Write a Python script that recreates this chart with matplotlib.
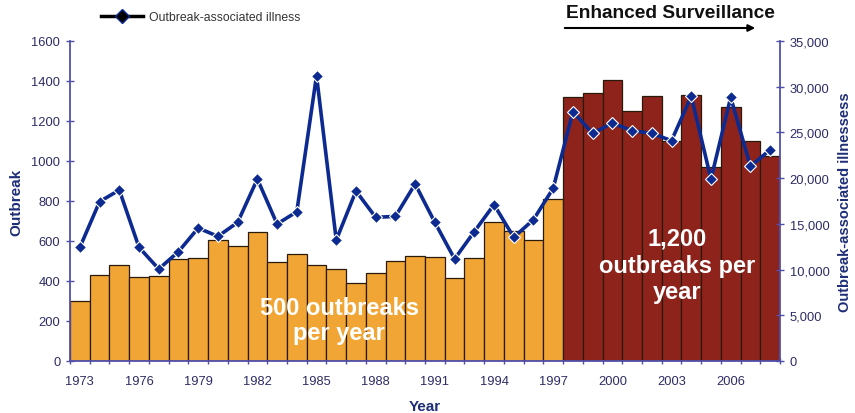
import matplotlib
matplotlib.use("Agg")
import matplotlib.pyplot as plt
from matplotlib.ticker import FuncFormatter, FixedLocator

plt.rcParams['font.family'] = ['Liberation Sans', 'DejaVu Sans']

years = list(range(1973, 2009))
outbreaks = [300, 432, 480, 418, 425, 510, 515, 605, 577, 647, 493, 533, 480,
             460, 390, 438, 498, 527, 520, 413, 513, 693, 652, 605, 810,
             1318, 1340, 1405, 1252, 1323, 1098, 1332, 972, 1268, 1098, 1027]
illnesses = [12430, 17430, 18700, 12430, 10060, 11960, 14550, 13630, 15160, 19900,
             14980, 16330, 31210, 13230, 18590, 15710, 15820, 19360, 15160, 11160,
             14150, 17100, 13530, 15460, 18890, 27270, 24900, 26030, 25190, 24900,
             24100, 28950, 19900, 28840, 21290, 23110]
surveillance_start = 1998
year_labels = [1973, 1976, 1979, 1982, 1985, 1988, 1991, 1994, 1997, 2000, 2003, 2006]

ORANGE = "#F0A535"
DARKRED = "#8E231C"
NAVY = "#0D2A91"
AXIS = "#5050A8"
LABEL = "#1E2E78"
TICKTXT = "#2C2C66"

fig = plt.figure(figsize=(8.55, 4.14), dpi=100)
ax = fig.add_axes([70/855, 52/414, 710/855, 320/414])

x = list(range(len(years)))
colors = [DARKRED if y >= surveillance_start else ORANGE for y in years]
ax.bar(x, outbreaks, width=1.0, color=colors, edgecolor="#2a1a0a", linewidth=0.9, zorder=2)

ax.set_xlim(-0.5, len(years) - 0.5)
ax.set_ylim(0, 1600)
ax.set_yticks(range(0, 1601, 200))
ax.set_xticks([years.index(y) for y in year_labels])
ax.set_xticklabels([str(y) for y in year_labels])
ax.xaxis.set_minor_locator(FixedLocator([i - 0.5 for i in range(len(years) + 1)]))
ax.tick_params(axis='x', which='major', length=0, pad=10, labelsize=9.3, labelcolor=TICKTXT)
ax.tick_params(axis='x', which='minor', length=4, direction='inout', color=AXIS, width=1)
ax.tick_params(axis='y', length=6, direction='inout', color=AXIS, width=1,
               labelsize=9.3, labelcolor=TICKTXT, pad=4)

for side in ['top', 'right']:
    ax.spines[side].set_visible(False)
for side in ['left', 'bottom']:
    ax.spines[side].set_color(AXIS)
    ax.spines[side].set_linewidth(1.3)

ax.set_ylabel("Outbreak", fontsize=11, fontweight='bold', color=LABEL, labelpad=6)
ax.set_xlabel("Year", fontsize=11, fontweight='bold', color=LABEL, labelpad=9)

ax2 = ax.twinx()
ax2.set_ylim(0, 35000)
ax2.set_yticks(range(0, 35001, 5000))
ax2.yaxis.set_major_formatter(FuncFormatter(lambda v, p: f"{int(v):,}"))
ax2.tick_params(axis='y', length=6, direction='inout', color=AXIS, width=1,
                labelsize=9.3, labelcolor=TICKTXT, pad=4)
for side in ['top', 'left', 'bottom']:
    ax2.spines[side].set_visible(False)
ax2.spines['right'].set_color(AXIS)
ax2.spines['right'].set_linewidth(1.3)
ax2.plot(x, illnesses, color=NAVY, linewidth=2.6, marker='D', markersize=6,
         markerfacecolor=NAVY, markeredgecolor="white", markeredgewidth=0.8,
         zorder=3, label="Outbreak-associated illness")
ax2.set_ylabel("Outbreak-associated illnessess", fontsize=10.5, fontweight='bold',
               color=LABEL, labelpad=6)

ax.text(13.15, 205, "500 outbreaks\nper year", ha='center', va='center', color='white',
        fontsize=17, fontweight='bold', linespacing=1.15, zorder=4)
ax.text(30.26, 480, "1,200\noutbreaks per\nyear", ha='center', va='center', color='white',
        fontsize=17, fontweight='bold', linespacing=1.22, zorder=4)

# legend for the illness line
fig.legend(handles=[plt.Line2D([], [], color='black', linewidth=2.5, marker='D',
                               markersize=7, markerfacecolor='black',
                               markeredgecolor=NAVY)],
           labels=["Outbreak-associated illness"], loc='center left',
           bbox_to_anchor=(90/855, 1 - 18/414), frameon=False, fontsize=8.8,
           handlelength=3.4, handletextpad=0.5, labelcolor="#333333")

# enhanced surveillance banner
fig.text(670/855, 1 - 14/414, "Enhanced Surveillance", ha='center', va='center',
         fontsize=13.8, fontweight='bold', color='#111111')
fig.add_artist(matplotlib.patches.FancyArrowPatch(
    (562/855, 1 - 29/414), (758/855, 1 - 29/414), transform=fig.transFigure,
    arrowstyle='-|>', mutation_scale=10, color='black', linewidth=1.5))

fig.savefig("out.png", dpi=100)
